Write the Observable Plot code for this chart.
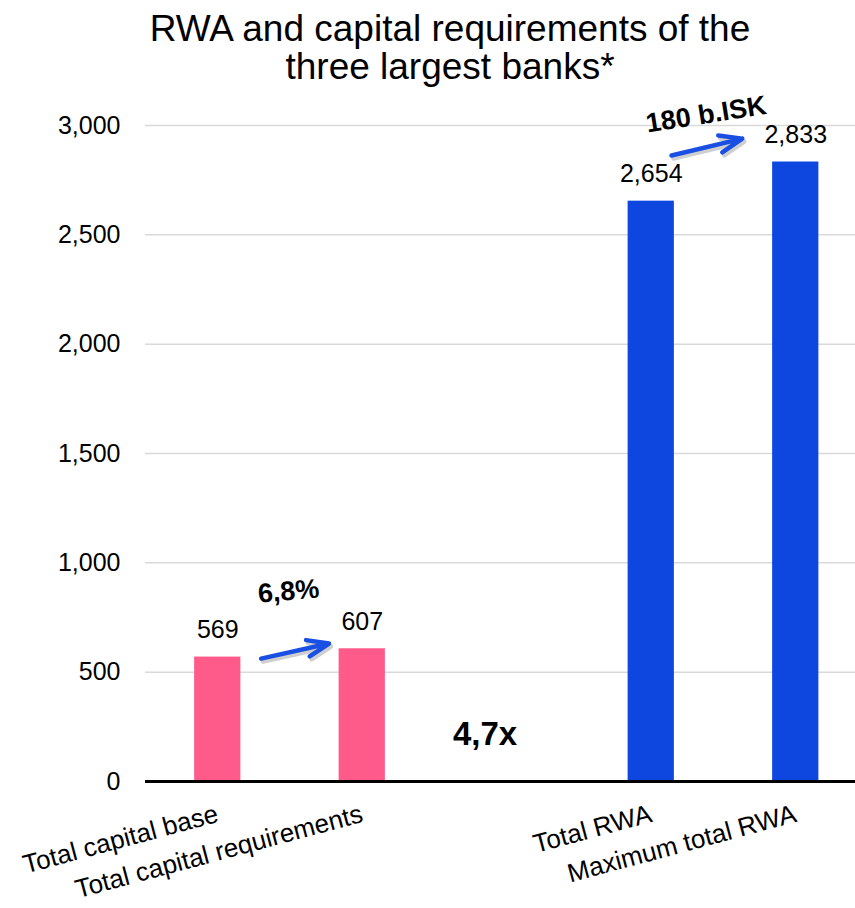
<!DOCTYPE html>
<html><head><meta charset="utf-8">
<script src="https://cdn.jsdelivr.net/npm/d3@7"></script>
<script src="https://cdn.jsdelivr.net/npm/@observablehq/plot@0.6"></script>
<style>
body{margin:0;background:#fff;font-family:"Liberation Sans",Arial,sans-serif;}
#title{height:100px;box-sizing:border-box;padding:10px 0 0 45px;text-align:center;font-size:37px;line-height:38px;color:#000;}
</style></head><body>
<div id="title">RWA and capital requirements of the<br>three largest banks*</div>
<div id="chart"></div>
<script>
// Data
const categories = ["Total capital base", "Total capital requirements", "", "Total RWA", "Maximum total RWA"];
const values = [569, 607, null, 2654, 2833];
const groups = ["capital", "capital", null, "rwa", "rwa"];
const yTicks = [0, 500, 1000, 1500, 2000, 2500, 3000];
const groupColors = {capital: "#ff5b8a", rwa: "#0d47e0"};

// Annotations (positions in data units: x = category index, y = value)
const arrowData = [
  {x1: 0.30, y1: 562, x2: 0.77, y2: 631},
  {x1: 3.14, y1: 2863, x2: 3.63, y2: 2940}
];
const noteData = [
  {text: "6,8%", x: 0.49, y: 869, rotate: -5},
  {text: "180 b.ISK", x: 3.38, y: 3050, rotate: -9}
];
const ratioNote = [{text: "4,7x", x: 1.85, y: 165}];

const data = categories.map((c, i) => ({i, label: c, value: values[i], group: groups[i]}));
const bars = data.filter(d => d.value != null);
const fmt = d3.format(",");

const chart = Plot.plot({
  width: 855,
  height: 808,
  marginLeft: 145,
  marginRight: 0,
  marginTop: 25,
  marginBottom: 127,
  style: {fontFamily: "'Liberation Sans', Arial, sans-serif", color: "#000", background: "#fff", overflow: "visible"},
  x: {domain: [-0.5, 4.5], range: [145, 867.5], axis: null},
  y: {domain: [0, 3000], axis: null},
  marks: [
    Plot.ruleY(yTicks.filter(t => t > 0), {stroke: "#d9d9d9", strokeWidth: 1.5}),
    Plot.axisY(yTicks, {tickSize: 0, tickPadding: 25, tickFormat: fmt, fontSize: 25, label: null}),
    Plot.rectY(bars, {x1: d => d.i - 0.16, x2: d => d.i + 0.16, y: "value", fill: d => groupColors[d.group]}),
    Plot.ruleY([0], {stroke: "#000", strokeWidth: 3}),
    Plot.text(bars, {x: "i", y: "value", text: d => fmt(d.value), dy: -19, lineAnchor: "bottom", fontSize: 25}),
    Plot.text(data.filter(d => d.label), {x: "i", y: 0, text: "label", rotate: -15, textAnchor: "end", lineAnchor: "bottom", dy: 40, dx: 2, fontSize: 26}),
    Plot.arrow(arrowData, {x1: "x1", y1: "y1", x2: "x2", y2: "y2", stroke: "#888", strokeOpacity: 0.4, strokeWidth: 4.5, headLength: 13, headAngle: 42, dx: 2, dy: 3}),
    Plot.arrow(arrowData, {x1: "x1", y1: "y1", x2: "x2", y2: "y2", stroke: "#1a4fe3", strokeWidth: 4.5, headLength: 13, headAngle: 42, strokeLinejoin: "miter"}),
    Plot.text(noteData, {x: "x", y: "y", text: "text", rotate: "rotate", fontSize: 27, fontWeight: "bold"}),
    Plot.text(ratioNote, {x: "x", y: "y", text: "text", lineAnchor: "bottom", fontSize: 33, fontWeight: "bold"})
  ]
});
document.getElementById("chart").appendChild(chart);
</script>
</body></html>
